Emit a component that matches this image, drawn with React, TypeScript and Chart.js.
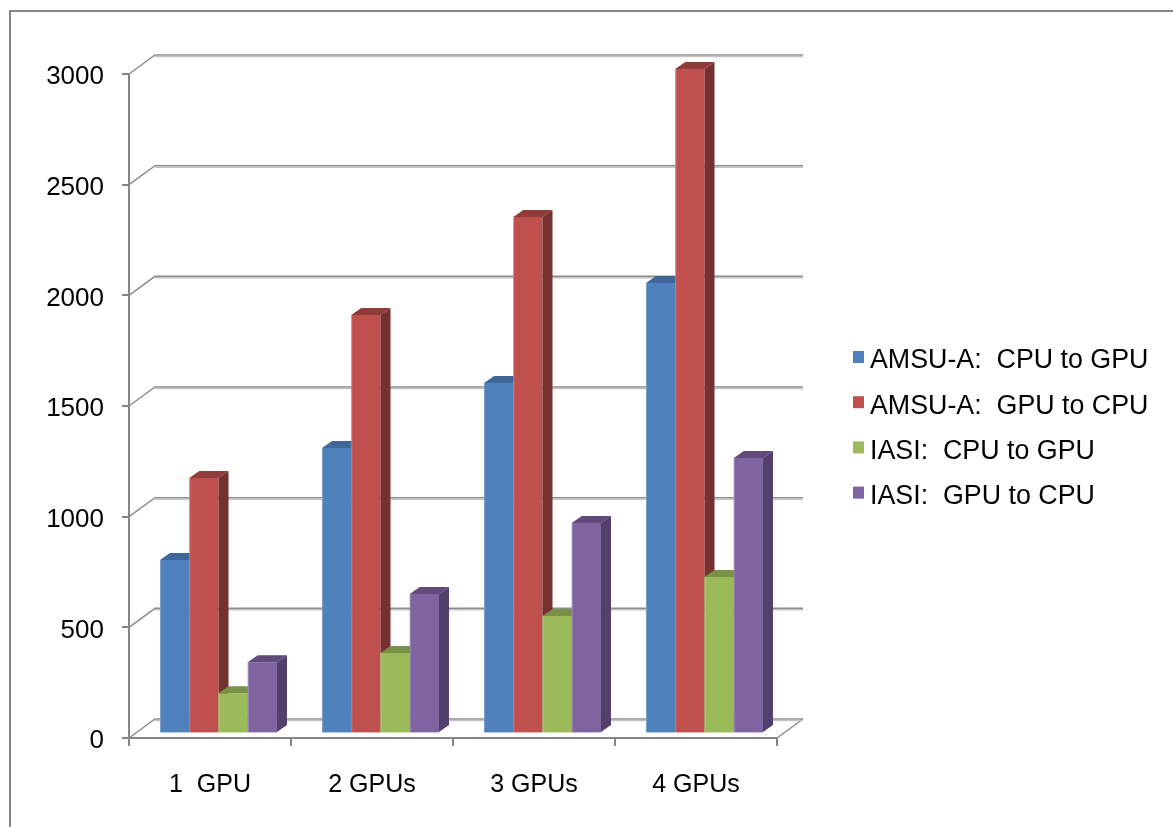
import React, { useEffect, useRef } from "react";
import { Chart, registerables } from "chart.js";

Chart.register(...registerables);

const categories = ["1  GPU", "2 GPUs", "3 GPUs", "4 GPUs"];
const amsuCpuToGpu = [782, 1288, 1581, 2033];
const amsuGpuToCpu = [1152, 1888, 2331, 3000];
const iasiCpuToGpu = [180, 361, 529, 705];
const iasiGpuToCpu = [320, 628, 949, 1243];
const seriesNames = [
  "AMSU-A:  CPU to GPU",
  "AMSU-A:  GPU to CPU",
  "IASI:  CPU to GPU",
  "IASI:  GPU to CPU",
];
const frontColors = ["#4F81BD", "#C0504D", "#9BBB59", "#8064A2"];
const topColors = ["#3F6797", "#8F3B39", "#7A9246", "#604A7B"];
const sideColors = ["#36587F", "#773030", "#5F7237", "#533F6B"];

const FONT = "'Liberation Sans', Arial, sans-serif";
const AXIS = "#868686";
const WALL_DX = 26;
const WALL_DY = -19;
const BAR_DX = 8.5;
const BAR_DY = -5;
const DEPTH_X = 10;
const DEPTH_Y = -7;

// Outer frame, back wall and floor of the 3D plot box.
const wallPlugin = {
  id: "wall",
  beforeDatasetsDraw(chart: any) {
    const { ctx, chartArea, scales } = chart;
    const { left, right } = chartArea;
    ctx.save();
    ctx.strokeStyle = AXIS;
    ctx.lineWidth = 2;
    ctx.beginPath();
    ctx.moveTo(10, 827);
    ctx.lineTo(10, 11);
    ctx.lineTo(1173, 11);
    ctx.stroke();
    for (const tick of scales.y.ticks) {
      const y = scales.y.getPixelForValue(tick.value);
      ctx.lineWidth = 1.5;
      ctx.strokeStyle = "#8C8C8C";
      ctx.beginPath();
      ctx.moveTo(left, y);
      ctx.lineTo(left + WALL_DX, y + WALL_DY);
      ctx.lineTo(right + WALL_DX, y + WALL_DY);
      if (tick.value === 0) {
        ctx.moveTo(right, y);
        ctx.lineTo(right + WALL_DX, y + WALL_DY);
      }
      ctx.stroke();
      ctx.strokeStyle = "#C4C4C4";
      ctx.beginPath();
      ctx.moveTo(left + WALL_DX, y + WALL_DY + 1.5);
      ctx.lineTo(right + WALL_DX, y + WALL_DY + 1.5);
      ctx.stroke();
    }
    ctx.restore();
  },
};

// Paints the series left to right, so each bar hides the side face of the one before it,
// shifted to the middle of the floor and with top and side faces added.
const depthPlugin = {
  id: "depth",
  beforeDatasetDraw() {
    return false;
  },
  afterDatasetsDraw(chart: any) {
    const { ctx } = chart;
    chart.data.datasets.forEach((_: any, i: number) => {
      const meta = chart.getDatasetMeta(i);
      ctx.save();
      ctx.translate(BAR_DX, BAR_DY);
      meta.controller.draw();
      for (const bar of meta.data) {
        const l = bar.x - bar.width / 2;
        const r = bar.x + bar.width / 2;
        const t = bar.y;
        const b = bar.base;
        ctx.fillStyle = topColors[i];
        ctx.beginPath();
        ctx.moveTo(l, t);
        ctx.lineTo(l + DEPTH_X, t + DEPTH_Y);
        ctx.lineTo(r + DEPTH_X, t + DEPTH_Y);
        ctx.lineTo(r, t);
        ctx.closePath();
        ctx.fill();
        ctx.fillStyle = sideColors[i];
        ctx.beginPath();
        ctx.moveTo(r, t);
        ctx.lineTo(r + DEPTH_X, t + DEPTH_Y);
        ctx.lineTo(r + DEPTH_X, b + DEPTH_Y);
        ctx.lineTo(r, b);
        ctx.closePath();
        ctx.fill();
        ctx.fillStyle = "rgba(255,255,255,0.25)";
        ctx.fillRect(l, t, 1, b - t);
        ctx.fillStyle = frontColors[i] + "66";
        ctx.fillRect(l, b, r - l, 1);
      }
      ctx.restore();
    });
  },
};

// Legend column on the right of the plot.
const legendPlugin = {
  id: "sideLegend",
  afterDraw(chart: any) {
    const { ctx } = chart;
    ctx.save();
    ctx.textBaseline = "middle";
    ctx.textAlign = "left";
    ctx.font = `26.8px ${FONT}`;
    chart.data.datasets.forEach((ds: any, i: number) => {
      const y = 361 + i * 45.2;
      ctx.fillStyle = ds.backgroundColor;
      ctx.fillRect(853, y - 10, 11, 12);
      ctx.fillStyle = "#000";
      ctx.fillText(ds.label, 870, y);
    });
    ctx.restore();
  },
};

export default function App() {
  const ref = useRef<HTMLCanvasElement>(null);
  useEffect(() => {
    const values = [amsuCpuToGpu, amsuGpuToCpu, iasiCpuToGpu, iasiGpuToCpu];
    const chart = new Chart(ref.current as HTMLCanvasElement, {
      type: "bar",
      data: {
        labels: categories,
        datasets: values.map((data, i) => ({
          label: seriesNames[i],
          data,
          backgroundColor: frontColors[i],
          clip: false as any,
          categoryPercentage: 0.722,
          barPercentage: 1,
        })),
      },
      plugins: [wallPlugin, depthPlugin, legendPlugin],
      options: {
        responsive: false,
        animation: false,
        layout: { padding: { top: 74, right: 396, left: 0, bottom: 0 } },
        plugins: { legend: { display: false }, tooltip: { enabled: false } },
        scales: {
          x: {
            afterFit: (s: any) => {
              s.height = 89;
            },
            border: { color: AXIS, width: 2 },
            grid: { drawOnChartArea: false, color: AXIS, lineWidth: 2, tickLength: 8 },
            ticks: {
              color: "#000",
              font: { family: FONT, size: 25 },
              padding: 24,
              maxRotation: 0,
              autoSkip: false,
            },
          },
          y: {
            min: 0,
            max: 3000,
            afterFit: (s: any) => {
              s.width = 129;
            },
            border: { color: AXIS, width: 2 },
            grid: { drawOnChartArea: false, color: AXIS, lineWidth: 2, tickLength: 7 },
            ticks: {
              stepSize: 500,
              color: "#000",
              font: { family: FONT, size: 26 },
              padding: 18,
              labelOffset: 3,
              callback: (v: any) => String(v),
            },
          },
        },
      },
    });
    return () => chart.destroy();
  }, []);
  return (
    <div style={{ position: "absolute", left: 0, top: 0, width: 1173, height: 827, background: "#fff" }}>
      <canvas ref={ref} width={1173} height={827} style={{ display: "block" }} />
    </div>
  );
}
